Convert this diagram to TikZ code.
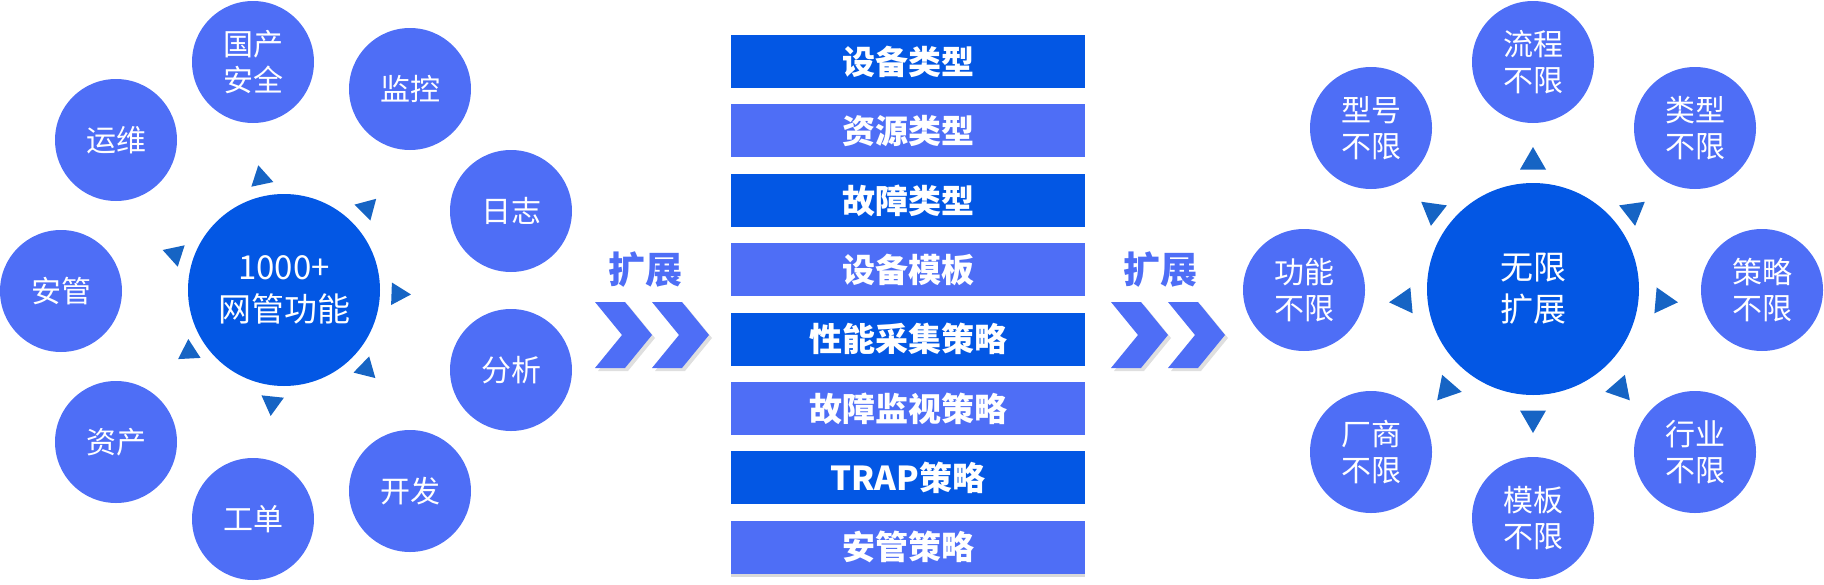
\documentclass[tikz,border=0pt]{standalone}
\usepackage{fontspec}
\setmainfont{Noto Sans CJK SC}
\usetikzlibrary{positioning, shapes.geometric, shadows}
\definecolor{lightblue}{RGB}{78,110,246}
\definecolor{deepblue}{RGB}{3,87,228}
\definecolor{tipblue}{RGB}{22,100,196}

\begin{document}
\begin{tikzpicture}[
		x=1pt, y=-1pt,
		every node/.style={inner sep=0pt, text=white},
		item/.style={circle, fill=lightblue, minimum size=122pt, align=center, font=\fontsize{30}{36}\selectfont},
		hub/.style={circle, fill=deepblue, align=center, font=\fontsize{33}{42}\selectfont},
		tip/.style={regular polygon, regular polygon sides=3, fill=tipblue, minimum size=26pt},
		bardark/.style={rectangle, fill=deepblue, minimum width=354pt, minimum height=53pt, font=\fontsize{33}{40}\selectfont\bfseries},
		barlight/.style={bardark, fill=lightblue},
		expand/.style={text=lightblue, font=\fontsize{37}{44}\selectfont\bfseries},
		chev/.style={fill=lightblue, drop shadow={shadow xshift=3pt, shadow yshift=-3pt, opacity=0.25}}
		]
		\useasboundingbox (0,0) rectangle (1824,584);
		
		% Left ring
		\node[hub] (wangguan) at (284,290) [minimum size=192pt] {1000+\\网管功能};
		\node[item] (guochan) at (253,62) {国产\\安全};
		\node[item] (jiankong) at (410,89) {监控};
		\node[item] (rizhi) at (511,211) {日志};
		\node[item] (fenxi) at (511,370) {分析};
		\node[item] (kaifa) at (410,491) {开发};
		\node[item] (gongdan) at (253,519) {工单};
		\node[item] (zichan) at (116,442) {资产};
		\node[item] (anguan) at (61,291) {安管};
		\node[item] (yunwei) at (116,140) {运维};
		
		% Triangles round the left hub
		\node[tip, rotate=12] (tl1) at (261,178) {};
		\node[tip, rotate=-45] (tl2) at (367,208) {};
		\node[tip, rotate=-92] (tl3) at (398,294) {};
		\node[tip, rotate=-134] (tl4) at (366,369) {};
		\node[tip, rotate=174] (tl5) at (272,403) {};
		\node[tip, rotate=123] (tl6) at (189,352) {};
		\node[tip, rotate=72] (tl7) at (175,254) {};
		
		% Middle: labels and chevrons
		\node[expand] (kz1) at (645,270) {扩展};
		\fill[chev] (595,302) -- ++(30,0) -- ++(27,33) -- ++(-27,33) -- ++(-30,0) -- ++(27,-33) -- cycle;
		\fill[chev] (652,302) -- ++(30,0) -- ++(27,33) -- ++(-27,33) -- ++(-30,0) -- ++(27,-33) -- cycle;
		\node[expand] (kz2) at (1160,270) {扩展};
		\fill[chev] (1111,302) -- ++(30,0) -- ++(27,33) -- ++(-27,33) -- ++(-30,0) -- ++(27,-33) -- cycle;
		\fill[chev] (1168,302) -- ++(30,0) -- ++(27,33) -- ++(-27,33) -- ++(-30,0) -- ++(27,-33) -- cycle;
		
		% Bars
		\node[bardark] (b1) at (908,61.5) {设备类型};
		\node[barlight, below=16pt of b1] (b2) {资源类型};
		\node[bardark, below=16pt of b2] (b3) {故障类型};
		\node[barlight, below=16pt of b3] (b4) {设备模板};
		\node[bardark, below=16pt of b4] (b5) {性能采集策略};
		\node[barlight, below=16pt of b5] (b6) {故障监视策略};
		\node[bardark, below=16pt of b6] (b7) {TRAP策略};
		\node[barlight, below=16pt of b7, drop shadow={shadow xshift=0pt, shadow yshift=-3pt, opacity=0.3}] (b8) {安管策略};
		
		% Right ring
		\node[hub] (wuxian) at (1533,289) [minimum size=212pt] {无限\\扩展};
		\node[item] (liucheng) at (1533,62) {流程\\不限};
		\node[item] (leixing) at (1695,128) {类型\\不限};
		\node[item] (celue) at (1762,290) {策略\\不限};
		\node[item] (hangye) at (1695,452) {行业\\不限};
		\node[item] (muban) at (1533,518) {模板\\不限};
		\node[item] (changshang) at (1371,452) {厂商\\不限};
		\node[item] (gongneng) at (1304,290) {功能\\不限};
		\node[item] (xinghao) at (1371,128) {型号\\不限};
		
		% Triangles round the right hub
		\node[tip, minimum size=30pt, rotate=0] (tr1) at (1533,162) {};
		\node[tip, minimum size=30pt, rotate=-52] (tr2) at (1633,211) {};
		\node[tip, minimum size=30pt, rotate=-95] (tr3) at (1663,301) {};
		\node[tip, minimum size=30pt, rotate=-139] (tr4) at (1620,389) {};
		\node[tip, minimum size=30pt, rotate=180] (tr5) at (1533,418) {};
		\node[tip, minimum size=30pt, rotate=139] (tr6) at (1447,389) {};
		\node[tip, minimum size=30pt, rotate=95] (tr7) at (1404,301) {};
		\node[tip, minimum size=30pt, rotate=52] (tr8) at (1433,211) {};
	\end{tikzpicture}
\end{document}
